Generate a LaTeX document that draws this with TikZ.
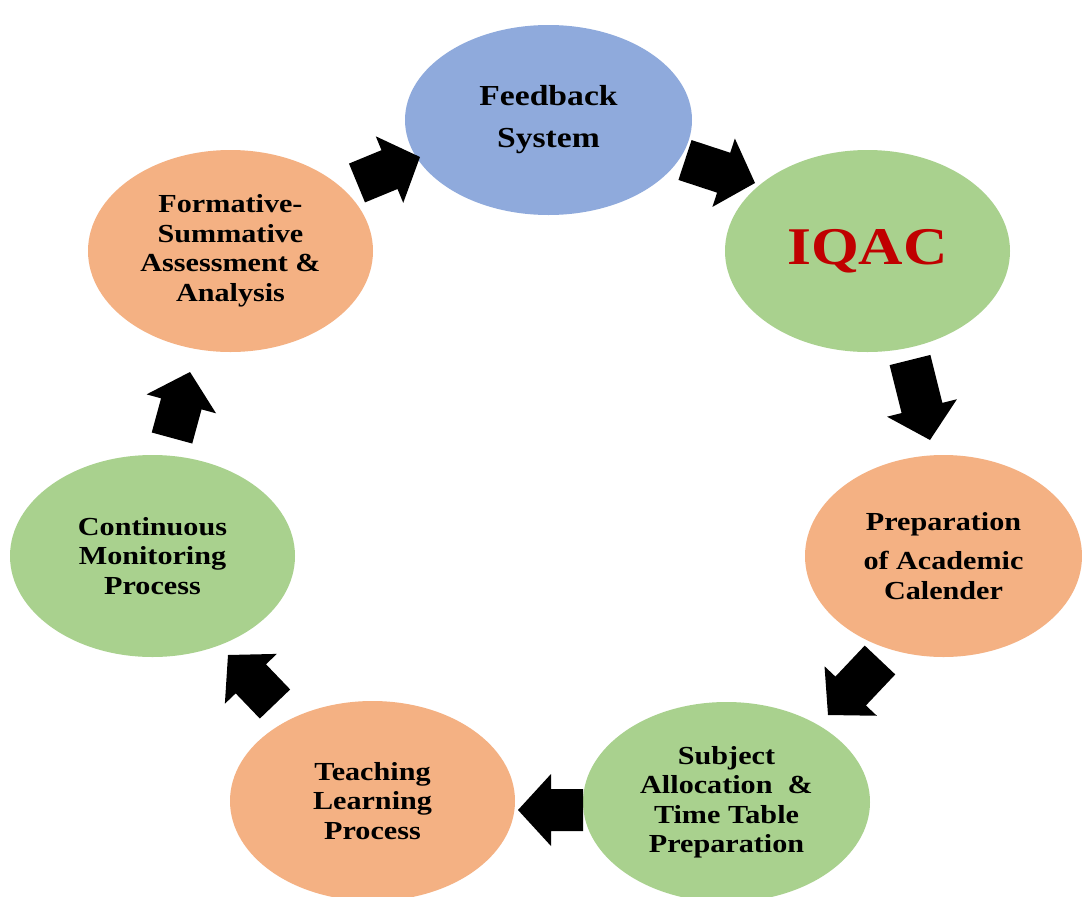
\documentclass[tikz,border=0pt]{standalone}
\usepackage{fontspec}
\setmainfont{Liberation Serif}
\newfontfamily\lab[FakeStretch=1.16]{Liberation Serif}
\usetikzlibrary{shapes.geometric,calc}
\definecolor{cblue}{HTML}{8FAADC}
\definecolor{cgreen}{HTML}{A9D18E}
\definecolor{corange}{HTML}{F4B183}
\definecolor{cred}{HTML}{C00000}
% block arrow from coordinate #1 (tail) to coordinate #2 (tip)
\newcommand\blkarr[2]{%
  \coordinate (bc) at ($(#2)!33pt!(#1)$);
  \fill[black] ($(#1)!21pt!90:(#2)$) -- ($(bc)!21pt!-90:(#1)$) -- ($(bc)!36pt!-90:(#1)$)
    -- (#2) -- ($(bc)!36pt!90:(#1)$) -- ($(bc)!21pt!90:(#1)$) -- ($(#1)!21pt!-90:(#2)$) -- cycle;}
\begin{document}
\begin{tikzpicture}[x=1pt,y=-1pt,
  ell/.style={ellipse, inner sep=0pt, draw=none, align=center,
    font=\lab\bfseries\fontsize{26}{29.5}\selectfont}]
\useasboundingbox (0,0) rectangle (1082,897);
\clip (0,0) rectangle (1082,897);
\fill[white] (0,0) rectangle (1082,897);

\node[ell, fill=cblue, minimum width=287pt, minimum height=190pt,
  font=\lab\bfseries\fontsize{29}{42}\selectfont] (feed) at (548.5,120) {Feedback\\System};
\node[ell, fill=cgreen, minimum width=285pt, minimum height=202pt,
  font=\lab\bfseries\fontsize{53}{60}\selectfont, text=cred] (iqac) at (867.5,251) {IQAC};
\node[ell, fill=corange, minimum width=277pt, minimum height=202pt] (prep) at (943.5,556)
  {Preparation\\[10pt]of Academic\\Calender};
\node[ell, fill=cgreen, minimum width=287pt, minimum height=200pt] (subj) at (726.5,802)
  {Subject\\Allocation \ \&\\Time Table\\Preparation};
\node[ell, fill=corange, minimum width=285pt, minimum height=200pt] (teach) at (372.5,801)
  {Teaching\\Learning\\Process};
\node[ell, fill=cgreen, minimum width=285pt, minimum height=202pt] (cont) at (152.5,556)
  {Continuous\\Monitoring\\Process};
\node[ell, fill=corange, minimum width=285pt, minimum height=202pt] (form) at (230.5,251)
  {Formative-\\Summative\\Assessment \&\\Analysis};

\coordinate (a1t) at ($(form)+(126.5,-68)$);  \coordinate (a1h) at ($(feed)+(-128.5,37)$);
\coordinate (a2t) at ($(feed)+(136.5,40)$);   \coordinate (a2h) at ($(iqac)+(-112.5,-68)$);
\coordinate (a3t) at ($(iqac)+(42.5,109)$);   \coordinate (a3h) at ($(prep)+(-13.5,-116)$);
\coordinate (a4t) at ($(prep)+(-63.5,104)$);  \coordinate (a4h) at ($(subj)+(101.5,-87)$);
\coordinate (a5t) at ($(subj)+(-143.5,8)$);   \coordinate (a5h) at ($(teach)+(145.5,9)$);
\coordinate (a6t) at ($(teach)+(-97.5,-97)$); \coordinate (a6h) at ($(cont)+(75.5,99)$);
\coordinate (a7t) at ($(cont)+(19.5,-118)$);  \coordinate (a7h) at ($(form)+(-40.5,121)$);
\blkarr{a1t}{a1h}
\blkarr{a2t}{a2h}
\blkarr{a3t}{a3h}
\blkarr{a4t}{a4h}
\blkarr{a5t}{a5h}
\blkarr{a6t}{a6h}
\blkarr{a7t}{a7h}
\end{tikzpicture}
\end{document}
